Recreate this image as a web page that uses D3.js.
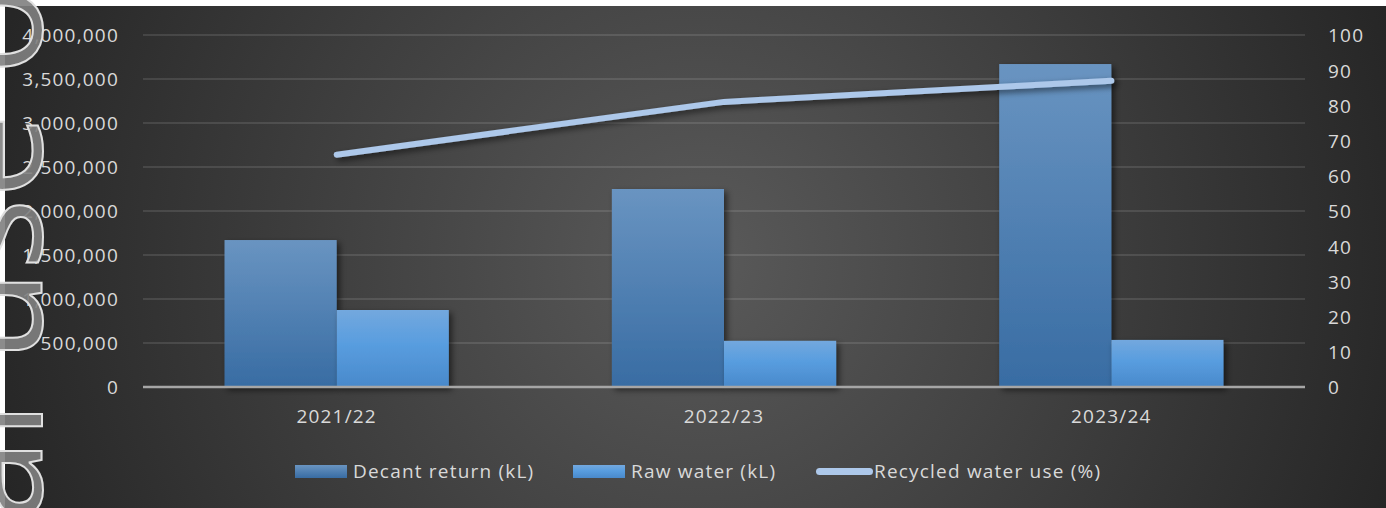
<!DOCTYPE html>
<html>
<head>
<meta charset="utf-8">
<script src="https://cdn.jsdelivr.net/npm/d3@7"></script>
<style>
  html, body { margin: 0; padding: 0; background: #fff; }
  svg { display: block; }
  text { font-family: "Open Sans", Lato, sans-serif; }
</style>
</head>
<body>
<svg id="chart" width="1386" height="508"></svg>
<script>
// data
const years = ['2021/22', '2022/23', '2023/24'];
const decantReturn = [1670000, 2250000, 3670000];
const rawWater = [875000, 525000, 535000];
const recycledPct = [66, 81, 87];
const seriesNames = ['Decant return (kL)', 'Raw water (kL)', 'Recycled water use (%)'];
const leftTicks = [0, 500000, 1000000, 1500000, 2000000, 2500000, 3000000, 3500000, 4000000];
const rightTicks = [0, 10, 20, 30, 40, 50, 60, 70, 80, 90, 100];

const W = 1386, H = 508;
const svg = d3.select('#chart');
const defs = svg.append('defs');

// background gradient
const bg = defs.append('radialGradient').attr('id', 'bg')
    .attr('gradientUnits', 'userSpaceOnUse')
    .attr('cx', 700).attr('cy', 260).attr('r', 730);
bg.append('stop').attr('offset', '0%').attr('stop-color', '#5a5a5a');
bg.append('stop').attr('offset', '100%').attr('stop-color', '#262626');

const g1 = defs.append('linearGradient').attr('id', 'gDecant').attr('x1', 0).attr('y1', 0).attr('x2', 0).attr('y2', 1);
g1.append('stop').attr('offset', '0%').attr('stop-color', '#6994c1');
g1.append('stop').attr('offset', '100%').attr('stop-color', '#386ca3');
const g2 = defs.append('linearGradient').attr('id', 'gRaw').attr('x1', 0).attr('y1', 0).attr('x2', 0).attr('y2', 1);
g2.append('stop').attr('offset', '0%').attr('stop-color', '#73a8de');
g2.append('stop').attr('offset', '45%').attr('stop-color', '#589ddf');
g2.append('stop').attr('offset', '100%').attr('stop-color', '#4989cb');

const shadow = defs.append('filter').attr('id', 'shadow')
    .attr('x', '-20%').attr('y', '-20%').attr('width', '140%').attr('height', '140%');
shadow.append('feDropShadow').attr('dx', 3).attr('dy', 3).attr('stdDeviation', 3)
    .attr('flood-color', '#000').attr('flood-opacity', 0.55);

svg.append('rect').attr('x', 5).attr('y', 6).attr('width', W - 5).attr('height', H - 6).attr('fill', 'url(#bg)');

// scales
const x = d3.scaleBand().domain(years).range([143, 1305]);
const x1 = d3.scaleBand().domain(['decant', 'raw']).range([0, x.bandwidth()]).paddingInner(0).paddingOuter(0.727);
const y = d3.scaleLinear().domain([0, 4000000]).range([387, 35]);
const y2 = d3.scaleLinear().domain([0, 100]).range([387, 35]);

const textColor = '#d9d9d9';
const fs = 19;
const ls = '1.2px';

function styleText(sel) {
    sel.attr('fill', textColor).style('font-size', fs + 'px').style('letter-spacing', ls)
        .style('font-family', '"Open Sans", Lato, sans-serif');
}

// gridlines
svg.append('g').selectAll('line').data(leftTicks.filter(d => d > 0)).enter()
    .append('line')
    .attr('x1', 143).attr('x2', 1305)
    .attr('y1', d => y(d)).attr('y2', d => y(d))
    .attr('stroke', 'rgba(255,255,255,0.11)').attr('stroke-width', 2);

// left axis
const left = svg.append('g').attr('transform', 'translate(143,0)')
    .call(d3.axisLeft(y).tickValues(leftTicks).tickFormat(d3.format(',')).tickSize(0).tickPadding(24));
left.select('.domain').remove();
left.selectAll('text').call(styleText).attr('dy', '0.36em');

// right axis
const right = svg.append('g').attr('transform', 'translate(1305,0)')
    .call(d3.axisRight(y2).tickValues(rightTicks).tickSize(0).tickPadding(23));
right.select('.domain').remove();
right.selectAll('text').call(styleText).attr('dy', '0.36em');

// bars
const groups = svg.append('g').selectAll('g').data(years).enter()
    .append('g').attr('transform', d => `translate(${x(d)},0)`);
groups.append('rect')
    .attr('x', x1('decant')).attr('width', x1.bandwidth())
    .attr('y', (d, i) => y(decantReturn[i])).attr('height', (d, i) => y(0) - y(decantReturn[i]))
    .attr('fill', 'url(#gDecant)').attr('filter', 'url(#shadow)');
groups.append('rect')
    .attr('x', x1('raw')).attr('width', x1.bandwidth())
    .attr('y', (d, i) => y(rawWater[i])).attr('height', (d, i) => y(0) - y(rawWater[i]))
    .attr('fill', 'url(#gRaw)').attr('filter', 'url(#shadow)');

// zero line
svg.append('line').attr('x1', 143).attr('x2', 1305).attr('y1', y(0)).attr('y2', y(0))
    .attr('stroke', '#a6a6a6').attr('stroke-width', 2.5);

// bottom axis labels
const bottom = svg.append('g').attr('transform', `translate(0,${y(0)})`)
    .call(d3.axisBottom(x).tickSize(0).tickPadding(23));
bottom.select('.domain').remove();
bottom.selectAll('text').call(styleText);

// line
const line = d3.line().x((d, i) => x(years[i]) + x.bandwidth() / 2).y(d => y2(d));
svg.append('path').datum(recycledPct)
    .attr('d', line).attr('fill', 'none')
    .attr('stroke', '#adc8ea').attr('stroke-width', 6)
    .attr('stroke-linecap', 'round').attr('stroke-linejoin', 'round')
    .attr('filter', 'url(#shadow)');

// legend
const legend = svg.append('g').attr('transform', 'translate(0,471.5)');
const legendItems = [
    { x: 295, fill: 'url(#gDecant)', type: 'rect' },
    { x: 573, fill: 'url(#gRaw)', type: 'rect' },
    { x: 816, fill: '#adc8ea', type: 'line' }
];
legendItems.forEach((it, i) => {
    if (it.type === 'rect') {
        legend.append('rect').attr('x', it.x).attr('y', -6.5).attr('width', 52).attr('height', 13).attr('fill', it.fill);
    } else {
        legend.append('line').attr('x1', it.x + 3.5).attr('x2', it.x + 53.5).attr('y1', 0).attr('y2', 0)
            .attr('stroke', it.fill).attr('stroke-width', 7).attr('stroke-linecap', 'round');
    }
    legend.append('text').attr('x', it.x + 58).attr('y', 0).attr('dy', '0.36em')
        .call(styleText).text(seriesNames[i]);
});

// watermark along the left edge
const wm = svg.append('text')
    .style('font-size', '150px')
    .attr('fill', '#808080').attr('fill-opacity', 0.9)
    .attr('stroke', '#e0e0e0').attr('stroke-width', 2)
    .text('For personal use only');
// fit the size so that "use " spans the same distance as in the picture
const useLen = wm.node().getSubStringLength(13, 4);
wm.style('font-size', (150 * 287 / useLen) + 'px');
const off = wm.node().getSubStringLength(0, 13);
wm.attr('transform', `translate(42,${362 + off}) rotate(-90)`);
</script>
</body>
</html>
